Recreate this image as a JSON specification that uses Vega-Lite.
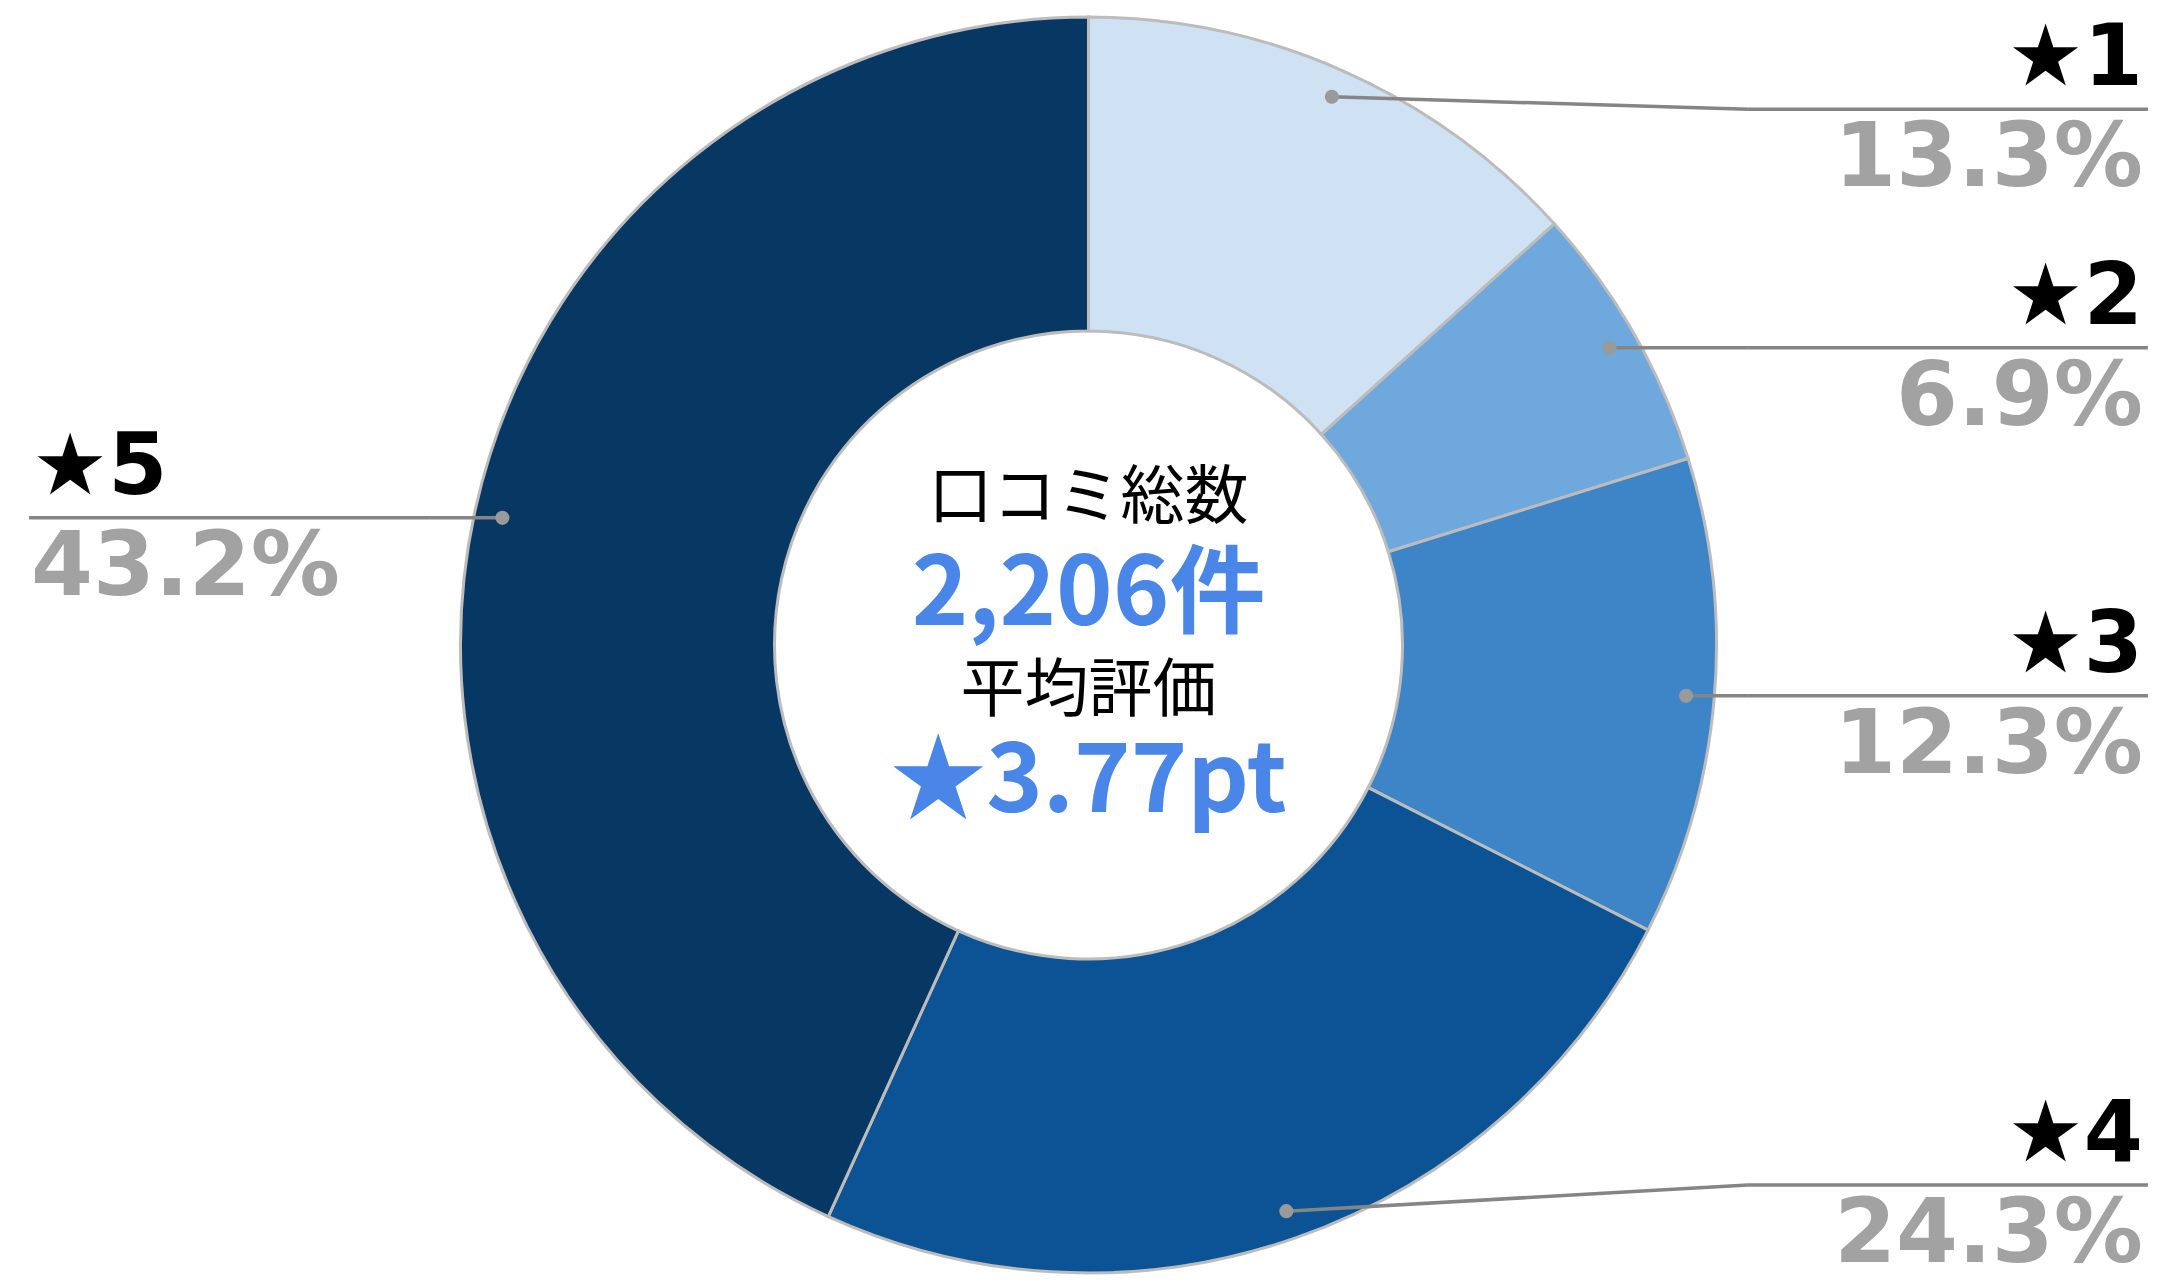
{
  "$schema": "https://vega.github.io/schema/vega-lite/v6.json",
  "width": 2177,
  "height": 1286,
  "autosize": {"type": "fit", "contains": "padding"},
  "padding": {"top": 4, "left": 0, "right": 0, "bottom": 0},
  "background": "white",
  "config": {"view": {"stroke": null}},
  "data": {
    "values": [
      {"rating": "★1", "pct": 13.3, "order": 1},
      {"rating": "★2", "pct": 6.9, "order": 2},
      {"rating": "★3", "pct": 12.3, "order": 3},
      {"rating": "★4", "pct": 24.3, "order": 4},
      {"rating": "★5", "pct": 43.2, "order": 5}
    ]
  },
  "layer": [
    {
      "mark": {"type": "arc", "innerRadius": 314, "outerRadius": 628, "stroke": "#bcbcbc", "strokeWidth": 3},
      "encoding": {
        "theta": {"field": "pct", "type": "quantitative", "stack": true},
        "color": {
          "field": "rating", "type": "nominal",
          "scale": {"domain": ["★1", "★2", "★3", "★4", "★5"], "range": ["#cfe2f3", "#6fa8dc", "#3d85c6", "#0b5394", "#073763"]},
          "legend": null
        },
        "order": {"field": "order", "type": "quantitative", "sort": "ascending"}
      }
    },
    {
      "transform": [
        {"stack": "pct", "groupby": [], "sort": [{"field": "order", "order": "ascending"}], "as": ["s0", "s1"]},
        {"calculate": "PI * (datum.s0 + datum.s1) / 100", "as": "mid"},
        {"calculate": "0.955 * sin(datum.mid)", "as": "dotX"},
        {"calculate": "0.955 * cos(datum.mid)", "as": "dotY"},
        {"calculate": "datum.dotX > 0 ? 1 : -1", "as": "side"},
        {"calculate": "clamp(datum.dotY, -0.86, 0.853)", "as": "labelY"},
        {"calculate": "datum.side * 1.05", "as": "elbowX"},
        {"calculate": "datum.side * 1.687", "as": "endX"},
        {"calculate": "format(datum.pct, '.1f') + '%'", "as": "pctLabel"}
      ],
      "layer": [
        {
          "mark": {"type": "rule", "color": "#858585", "strokeWidth": 3.5},
          "encoding": {
            "x": {"field": "dotX", "type": "quantitative", "scale": {"domain": [-1.73328, 1.73328], "nice": false, "zero": false}, "axis": null},
            "y": {"field": "dotY", "type": "quantitative", "scale": {"domain": [-1.0207, 1.0207], "nice": false, "zero": false}, "axis": null},
            "x2": {"field": "elbowX"},
            "y2": {"field": "labelY"}
          }
        },
        {
          "mark": {"type": "rule", "color": "#858585", "strokeWidth": 3.5},
          "encoding": {
            "x": {"field": "elbowX", "type": "quantitative", "scale": {"domain": [-1.73328, 1.73328], "nice": false, "zero": false}, "axis": null},
            "y": {"field": "labelY", "type": "quantitative", "scale": {"domain": [-1.0207, 1.0207], "nice": false, "zero": false}, "axis": null},
            "x2": {"field": "endX"},
            "y2": {"field": "labelY"}
          }
        },
        {
          "mark": {"type": "point", "filled": true, "size": 200, "color": "#9a9a9a", "opacity": 1},
          "encoding": {
            "x": {"field": "dotX", "type": "quantitative", "scale": {"domain": [-1.73328, 1.73328], "nice": false, "zero": false}, "axis": null},
            "y": {"field": "dotY", "type": "quantitative", "scale": {"domain": [-1.0207, 1.0207], "nice": false, "zero": false}, "axis": null}
          }
        },
        {
          "transform": [{"filter": "datum.side > 0"}],
          "mark": {"type": "text", "align": "right", "baseline": "alphabetic", "dx": -5, "dy": -24, "font": "DejaVu Sans", "fontWeight": "bold", "fontSize": 85, "color": "#000000"},
          "encoding": {
            "x": {"datum": 1.687, "type": "quantitative", "scale": {"domain": [-1.73328, 1.73328], "nice": false, "zero": false}, "axis": null},
            "y": {"field": "labelY", "type": "quantitative", "scale": {"domain": [-1.0207, 1.0207], "nice": false, "zero": false}, "axis": null},
            "text": {"field": "rating"}
          }
        },
        {
          "transform": [{"filter": "datum.side > 0"}],
          "mark": {"type": "text", "align": "right", "baseline": "alphabetic", "dx": -5, "dy": 77, "font": "DejaVu Sans", "fontWeight": "bold", "fontSize": 89, "color": "#a2a2a2"},
          "encoding": {
            "x": {"datum": 1.687, "type": "quantitative", "scale": {"domain": [-1.73328, 1.73328], "nice": false, "zero": false}, "axis": null},
            "y": {"field": "labelY", "type": "quantitative", "scale": {"domain": [-1.0207, 1.0207], "nice": false, "zero": false}, "axis": null},
            "text": {"field": "pctLabel"}
          }
        },
        {
          "transform": [{"filter": "datum.side < 0"}],
          "mark": {"type": "text", "align": "left", "baseline": "alphabetic", "dx": 3, "dy": -24, "font": "DejaVu Sans", "fontWeight": "bold", "fontSize": 85, "color": "#000000"},
          "encoding": {
            "x": {"datum": -1.687, "type": "quantitative", "scale": {"domain": [-1.73328, 1.73328], "nice": false, "zero": false}, "axis": null},
            "y": {"field": "labelY", "type": "quantitative", "scale": {"domain": [-1.0207, 1.0207], "nice": false, "zero": false}, "axis": null},
            "text": {"field": "rating"}
          }
        },
        {
          "transform": [{"filter": "datum.side < 0"}],
          "mark": {"type": "text", "align": "left", "baseline": "alphabetic", "dx": 2, "dy": 77, "font": "DejaVu Sans", "fontWeight": "bold", "fontSize": 89, "color": "#a2a2a2"},
          "encoding": {
            "x": {"datum": -1.687, "type": "quantitative", "scale": {"domain": [-1.73328, 1.73328], "nice": false, "zero": false}, "axis": null},
            "y": {"field": "labelY", "type": "quantitative", "scale": {"domain": [-1.0207, 1.0207], "nice": false, "zero": false}, "axis": null},
            "text": {"field": "pctLabel"}
          }
        }
      ]
    },
    {
      "data": {"values": [{"t": "口コミ総数"}]},
      "mark": {"type": "text", "align": "center", "baseline": "alphabetic", "dy": -127, "font": "Noto Sans CJK JP", "fontWeight": 400, "fontSize": 64, "color": "#000000"},
      "encoding": {
        "x": {"datum": 0, "type": "quantitative", "scale": {"domain": [-1.73328, 1.73328], "nice": false, "zero": false}, "axis": null},
        "y": {"datum": 0, "type": "quantitative", "scale": {"domain": [-1.0207, 1.0207], "nice": false, "zero": false}, "axis": null},
        "text": {"field": "t"}
      }
    },
    {
      "data": {"values": [{"t": "2,206件"}]},
      "mark": {"type": "text", "align": "center", "baseline": "alphabetic", "dy": -20, "font": "Noto Sans CJK JP", "fontWeight": "bold", "fontSize": 96, "color": "#4a86e8"},
      "encoding": {
        "x": {"datum": 0, "type": "quantitative", "scale": {"domain": [-1.73328, 1.73328], "nice": false, "zero": false}, "axis": null},
        "y": {"datum": 0, "type": "quantitative", "scale": {"domain": [-1.0207, 1.0207], "nice": false, "zero": false}, "axis": null},
        "text": {"field": "t"}
      }
    },
    {
      "data": {"values": [{"t": "平均評価"}]},
      "mark": {"type": "text", "align": "center", "baseline": "alphabetic", "dy": 66, "font": "Noto Sans CJK JP", "fontWeight": 400, "fontSize": 64, "color": "#000000"},
      "encoding": {
        "x": {"datum": 0, "type": "quantitative", "scale": {"domain": [-1.73328, 1.73328], "nice": false, "zero": false}, "axis": null},
        "y": {"datum": 0, "type": "quantitative", "scale": {"domain": [-1.0207, 1.0207], "nice": false, "zero": false}, "axis": null},
        "text": {"field": "t"}
      }
    },
    {
      "data": {"values": [{"t": "★3.77pt"}]},
      "mark": {"type": "text", "align": "center", "baseline": "alphabetic", "dy": 167, "font": "Noto Sans CJK JP", "fontWeight": "bold", "fontSize": 96, "color": "#4a86e8"},
      "encoding": {
        "x": {"datum": 0, "type": "quantitative", "scale": {"domain": [-1.73328, 1.73328], "nice": false, "zero": false}, "axis": null},
        "y": {"datum": 0, "type": "quantitative", "scale": {"domain": [-1.0207, 1.0207], "nice": false, "zero": false}, "axis": null},
        "text": {"field": "t"}
      }
    }
  ]
}
